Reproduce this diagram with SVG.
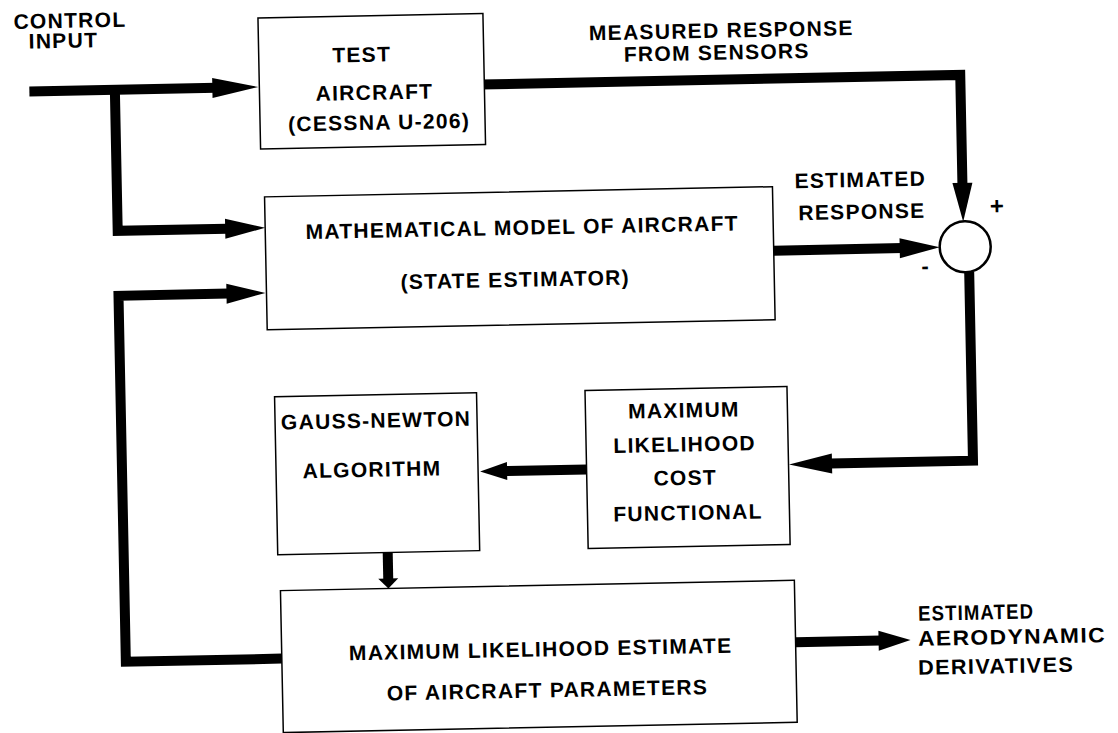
<svg xmlns="http://www.w3.org/2000/svg" width="1118" height="733" viewBox="0 0 1118 733">
<style>
.box{fill:#fff;stroke:#000;stroke-width:1.5}
.wire{fill:none;stroke:#000;stroke-width:10;stroke-linejoin:miter}
.wire.rc{stroke-linecap:round}
.head{fill:#000;stroke:none}
.sum{fill:#fff;stroke:#000;stroke-width:2.5}
text{font-family:"Liberation Sans",Arial,Helvetica,sans-serif;font-weight:bold;font-size:21px;letter-spacing:1.3px;fill:#000}
.c{text-anchor:middle}
</style>
<rect width="1118" height="733" fill="#fff"/>
<g transform="rotate(-1.15 559 366)">
<g id="connectors">
<path class="wire" d="M35,81 H222"/>
<polygon class="head" points="218,71 264,81 218,91"/>
<path class="wire" d="M120.5,81 V222 H230"/>
<polygon class="head" points="228,212 268,222 228,232"/>
<path class="wire rc" d="M276,653 H120 V287 H230"/>
<polygon class="head" points="228,277 267,287 228,297"/>
<path class="wire rc" d="M486,83 H966 V195"/>
<polygon class="head" points="956,191 966,230 976,191"/>
<path class="wire rc" d="M776,255 H905"/>
<polygon class="head" points="902,245 942,255 902,265"/>
<path class="wire" d="M971,280 V469 H828"/>
<polygon class="head" points="830,459 787,469 830,479"/>
<path class="wire" d="M584.5,470 H503"/>
<polygon class="head" points="505,461 478,470 505,479"/>
<path class="wire" d="M384,549 V577"/>
<polygon class="head" points="374,575 384,585 394,575"/>
<path class="wire" d="M790,647 H875"/>
<polygon class="head" points="873,637 905,647 873,657"/>
</g>
<g id="label-control-input">
<text class="c" x="77" y="18">CONTROL</text>
<text class="c" x="70" y="38">INPUT</text>
</g>
<g id="node-test-aircraft">
<rect class="box" x="265" y="12" width="225" height="131"/>
<text class="c" x="368" y="58">TEST</text>
<text class="c" x="380" y="96">AIRCRAFT</text>
<text class="c" x="384" y="126">(CESSNA U-206)</text>
</g>
<g id="label-measured">
<text class="c" x="728" y="41">MEASURED RESPONSE</text>
<text class="c" x="723" y="63">FROM SENSORS</text>
</g>
<g id="label-estimated-response">
<text class="c" x="864" y="193">ESTIMATED</text>
<text class="c" x="865" y="225">RESPONSE</text>
</g>
<g id="node-summing-junction">
<circle class="sum" cx="967.5" cy="255" r="25.5"/>
<text class="c" x="1000" y="223" style="font-size:24px;letter-spacing:0">+</text>
<text class="c" x="927" y="281" style="font-size:22px;letter-spacing:0">-</text>
</g>
<g id="node-math-model">
<rect class="box" x="268" y="191" width="508" height="133"/>
<text class="c" x="525" y="234">MATHEMATICAL MODEL OF AIRCRAFT</text>
<text class="c" x="517" y="286">(STATE ESTIMATOR)</text>
</g>
<g id="node-gauss-newton">
<rect class="box" x="274" y="391" width="202" height="158"/>
<text class="c" x="375" y="424">GAUSS-NEWTON</text>
<text class="c" x="370" y="473">ALGORITHM</text>
</g>
<g id="node-ml-cost">
<rect class="box" x="584.5" y="391" width="202" height="158"/>
<text class="c" x="683" y="420">MAXIMUM</text>
<text class="c" x="683" y="454">LIKELIHOOD</text>
<text class="c" x="683" y="487.5">COST</text>
<text class="c" x="685" y="522.5">FUNCTIONAL</text>
</g>
<g id="node-ml-estimate">
<rect class="box" x="276" y="585" width="514" height="142"/>
<text class="c" x="535" y="656">MAXIMUM LIKELIHOOD ESTIMATE</text>
<text class="c" x="541" y="697">OF AIRCRAFT PARAMETERS</text>
</g>
<g id="label-output">
<text x="913" y="628" textLength="116" lengthAdjust="spacingAndGlyphs">ESTIMATED</text>
<text x="912.5" y="653" textLength="188" lengthAdjust="spacingAndGlyphs">AERODYNAMIC</text>
<text x="912" y="682" textLength="156" lengthAdjust="spacingAndGlyphs">DERIVATIVES</text>
</g>
</g>
</svg>
